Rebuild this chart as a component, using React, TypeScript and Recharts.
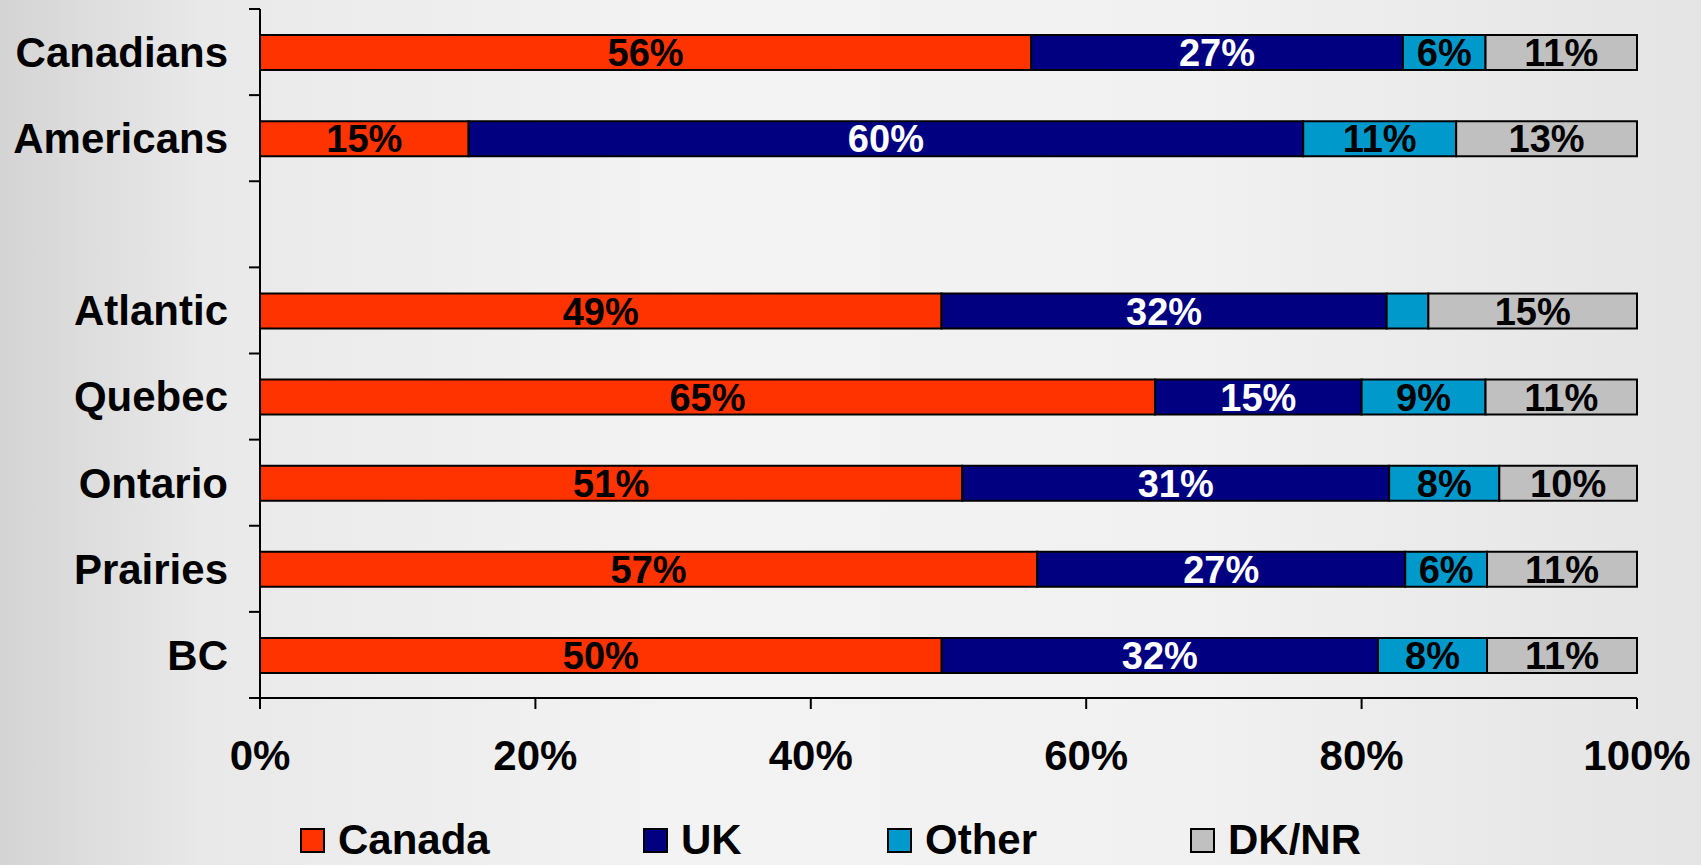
import React from 'react';
import { BarChart, Bar, XAxis, YAxis, LabelList } from 'recharts';

const categories = ['Canadians', 'Americans', ' ', 'Atlantic', 'Quebec', 'Ontario', 'Prairies', 'BC'];
const canada = [56, 15, 0, 49, 65, 51, 57, 50];
const uk = [27, 60, 0, 32, 15, 31, 27, 32];
const other = [6, 11, 0, 3, 9, 8, 6, 8];
const dknr = [11, 13, 0, 15, 11, 10, 11, 11];
const xTicks = [0, 0.2, 0.4, 0.6, 0.8, 1];

// band boundaries on the helper axis (its domain spans the category indexes 0..n-1)
const nCat = categories.length;
const boundaryTicks = [0, ...categories.map((_, k) => ((k + 1) * (nCat - 1)) / nCat)];

const series = [
  { key: 'Canada', values: canada, color: '#FF3300', labelColor: '#000000' },
  { key: 'UK', values: uk, color: '#000080', labelColor: '#FFFFFF' },
  { key: 'Other', values: other, color: '#0099CC', labelColor: '#000000' },
  { key: 'DK/NR', values: dknr, color: '#C0C0C0', labelColor: '#000000' },
];

const data = categories.map((c, i) => {
  const row: any = { name: c };
  series.forEach((s) => { row[s.key] = s.values[i]; });
  return row;
});

const FONT = '"Liberation Sans", Arial, Helvetica, sans-serif';

const makeLabel = (color: string) => (props: any) => {
  const { x, y, width, height, value } = props;
  if (value == null || value < 5) return null;
  return (
    <text
      x={x + width / 2}
      y={y + height / 2}
      dy="0.36em"
      textAnchor="middle"
      fill={color}
      fontFamily={FONT}
      fontWeight="bold"
      fontSize={38}
    >
      {value}%
    </text>
  );
};

const legendWidths: Record<string, number> = { Canada: 343, UK: 244, Other: 303, 'DK/NR': 200 };

export default function App() {
  return (
    <div
      style={{
        position: 'absolute',
        left: 0,
        top: 0,
        width: 1701,
        height: 865,
        overflow: 'hidden',
        background: 'linear-gradient(90deg, #d4d4d4 0%, #e9e9e9 12%, #f3f3f3 40%, #f1f1f1 70%, #e4e4e4 100%)',
        fontFamily: FONT,
      }}
    >
      <BarChart
        width={1701}
        height={865}
        data={data}
        layout="vertical"
        stackOffset="expand"
        barSize={35}
        margin={{ top: 9, right: 64, bottom: 107, left: 0 }}
      >
        <XAxis
          type="number"
          domain={[0, 1]}
          ticks={xTicks}
          tickFormatter={(v: number) => `${Math.round(v * 100)}%`}
          axisLine={{ stroke: '#000', strokeWidth: 2 }}
          tickLine={{ stroke: '#000', strokeWidth: 2 }}
          tickSize={11}
          tickMargin={31}
          height={60}
          tick={{ fill: '#000', fontSize: 42, fontWeight: 'bold', fontFamily: FONT }}
          interval={0}
        />
        <YAxis
          type="category"
          dataKey="name"
          width={260}
          axisLine={false}
          tickLine={false}
          tickSize={0}
          tickMargin={32}
          interval={0}
          tick={{ fill: '#000', fontSize: 42, fontWeight: 'bold', fontFamily: FONT }}
        />
        <YAxis
          yAxisId="grid"
          type="number"
          domain={[0, nCat - 1]}
          ticks={boundaryTicks}
          allowDataOverflow
          mirror
          width={1}
          tickFormatter={() => ''}
          tick={{ fontSize: 1 }}
          tickSize={-11}
          tickMargin={0}
          axisLine={{ stroke: '#000', strokeWidth: 2 }}
          tickLine={{ stroke: '#000', strokeWidth: 2 }}
          interval={0}
        />
        {series.map((s) => (
          <Bar
            key={s.key}
            dataKey={s.key}
            stackId="a"
            fill={s.color}
            stroke="#000"
            strokeWidth={2}
            isAnimationActive={false}
          >
            <LabelList dataKey={s.key} content={makeLabel(s.labelColor)} />
          </Bar>
        ))}
      </BarChart>
      <div
        style={{
          position: 'absolute',
          left: 300,
          top: 816,
          display: 'flex',
          alignItems: 'center',
          fontSize: 42,
          fontWeight: 'bold',
          color: '#000',
        }}
      >
        {series.map((s) => (
          <div key={s.key} style={{ display: 'flex', alignItems: 'center', width: legendWidths[s.key] }}>
            <div
              style={{
                width: 21,
                height: 21,
                background: s.color,
                border: '2px solid #000',
                marginRight: 13,
              }}
            />
            <span>{s.key}</span>
          </div>
        ))}
      </div>
    </div>
  );
}
